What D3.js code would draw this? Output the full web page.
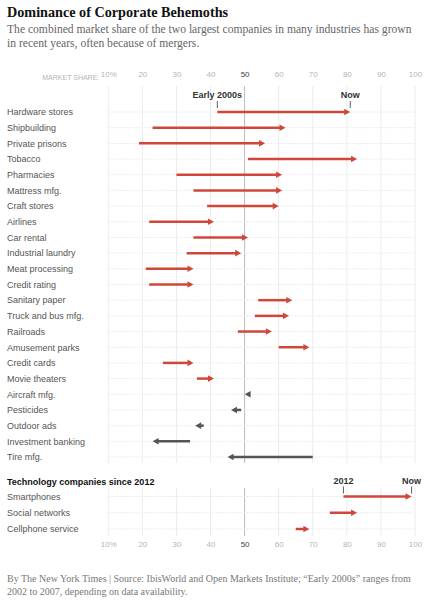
<!DOCTYPE html>
<html><head><meta charset="utf-8">
<script src="https://cdn.jsdelivr.net/npm/d3@7"></script>
<style>
body{margin:0;background:#fff;}
svg{display:block;}
</style></head>
<body>
<svg id="chart" width="432" height="600"></svg>
<script>
const industries = ["Hardware stores","Shipbuilding","Private prisons","Tobacco","Pharmacies","Mattress mfg.","Craft stores","Airlines","Car rental","Industrial laundry","Meat processing","Credit rating","Sanitary paper","Truck and bus mfg.","Railroads","Amusement parks","Credit cards","Movie theaters","Aircraft mfg.","Pesticides","Outdoor ads","Investment banking","Tire mfg."];
const early2000s = [42,23,19,51,30,35,39,22,35,33,21,22,54,53,48,60,26,36,51,49,38,34,70];
const nowShare   = [81,62,56,83,61,61,60,41,51,49,35,35,64,63,58,69,35,41,50,46,35.5,23,45];

const techIndustries = ["Smartphones","Social networks","Cellphone service"];
const tech2012 = [79,75,65];
const techNow  = [99,83,69];

const tickValues = [10,20,30,40,50,60,70,80,90,100];
const tickLabels = ["10%","20","30","40","50","60","70","80","90","100"];

const svg = d3.select("#chart");
const red = "#d0473a", gray = "#555";
const x = d3.scaleLinear().domain([10,100]).range([108.3,415]);
const y1 = d3.scalePoint().domain(industries).range([112,457]);
const y2 = d3.scalePoint().domain(techIndustries).range([496.5,529]);

const defs = svg.append("defs");
function marker(id,color){
  defs.append("marker").attr("id",id).attr("viewBox","0 0 6 7").attr("refX",6).attr("refY",3.5)
    .attr("markerWidth",6).attr("markerHeight",7).attr("orient","auto")
    .attr("markerUnits","userSpaceOnUse")
    .append("path").attr("d","M0,0L6,3.5L0,7z").attr("fill",color);
}
marker("ar",red); marker("ag",gray);

// Title
svg.append("text").attr("x",7).attr("y",17).attr("font-family","Liberation Serif, serif").attr("font-weight","bold")
  .attr("font-size",14.2).attr("fill","#111").text("Dominance of Corporate Behemoths");
const sub = svg.append("text").attr("font-family","Liberation Serif, serif").attr("font-size",11.6).attr("fill","#666");
sub.append("tspan").attr("x",7).attr("y",33).text("The combined market share of the two largest companies in many industries has grown");
sub.append("tspan").attr("x",7).attr("y",47).text("in recent years, often because of mergers.");

// grid panel 1
const g = svg.append("g");
g.selectAll("line.v1").data(tickValues).join("line")
  .attr("x1",d=>x(d)).attr("x2",d=>x(d)).attr("y1",86).attr("y2",463)
  .attr("stroke",d=>d===50?"#bbb":"#ebebeb").attr("stroke-width",1);
g.selectAll("line.h1").data(industries).join("line")
  .attr("x1",x(10)).attr("x2",x(100)).attr("y1",d=>y1(d)).attr("y2",d=>y1(d))
  .attr("stroke","#ececec").attr("stroke-dasharray","2,1");
// grid panel 2
g.selectAll("line.v2").data(tickValues).join("line")
  .attr("x1",d=>x(d)).attr("x2",d=>x(d)).attr("y1",488).attr("y2",536)
  .attr("stroke",d=>d===50?"#bbb":"#ebebeb");
g.selectAll("line.h2").data(techIndustries).join("line")
  .attr("x1",x(10)).attr("x2",x(100)).attr("y1",d=>y2(d)).attr("y2",d=>y2(d))
  .attr("stroke","#ececec").attr("stroke-dasharray","2,1");

// axes via d3
function tickAxis(yPos){
  const ax = d3.axisTop(x).tickValues(tickValues).tickSize(0).tickFormat((d,i)=>tickLabels[i]);
  const a = svg.append("g").attr("transform",`translate(0,${yPos})`).call(ax);
  a.select(".domain").remove();
  a.selectAll("text").attr("font-family","Liberation Sans, Arial, sans-serif").attr("font-size",8)
    .attr("fill",d=>d===50?"#444":"#b5b5b5").attr("dy",0);
  return a;
}
tickAxis(80);
svg.append("text").attr("x",x(10)-9).attr("y",80).attr("text-anchor","end")
  .attr("font-family","Liberation Sans, Arial, sans-serif").attr("font-size",7).attr("fill","#b5b5b5")
  .text("MARKET SHARE:");
tickAxis(550);

// row labels
const lab = "Liberation Sans, Arial, sans-serif";
svg.selectAll("text.r1").data(industries).join("text").attr("x",7).attr("y",d=>y1(d)+3.3)
  .attr("font-family",lab).attr("font-size",9).attr("fill","#555").text(d=>d);
svg.selectAll("text.r2").data(techIndustries).join("text").attr("x",7).attr("y",d=>y2(d)+3.3)
  .attr("font-family",lab).attr("font-size",9).attr("fill","#555").text(d=>d);

svg.append("text").attr("x",7).attr("y",484.5).attr("font-family",lab).attr("font-weight","bold")
  .attr("font-size",9).attr("fill","#111").text("Technology companies since 2012");

// arrows
function drawArrows(rows, yScale){
  const head = 5;
  svg.append("g").selectAll("line").data(rows).join("line")
    .attr("x1",d=>x(d.a))
    .attr("x2",d=>{const dir=d.b>d.a?1:-1; const len=Math.abs(x(d.b)-x(d.a)); return x(d.b)-dir*Math.min(head,len-0.5);})
    .attr("y1",d=>yScale(d.name)).attr("y2",d=>yScale(d.name))
    .attr("stroke",d=>d.b>d.a?red:gray).attr("stroke-width",2.5);
  svg.append("g").selectAll("path").data(rows).join("path")
    .attr("d",d=>{const dir=d.b>d.a?1:-1; const tx=x(d.b), yy=yScale(d.name);
      return `M${tx},${yy}L${tx-dir*6},${yy-3.3}L${tx-dir*6},${yy+3.3}Z`;})
    .attr("fill",d=>d.b>d.a?red:gray);
}
drawArrows(industries.map((d,i)=>({name:d,a:early2000s[i],b:nowShare[i]})), y1);
drawArrows(techIndustries.map((d,i)=>({name:d,a:tech2012[i],b:techNow[i]})), y2);

// annotations
function annot(v,yTick,label){
  svg.append("line").attr("x1",x(v)).attr("x2",x(v)).attr("y1",yTick-6).attr("y2",yTick+1)
    .attr("stroke","#333").attr("stroke-width",0.8);
  svg.append("text").attr("x",x(v)).attr("y",yTick-9).attr("text-anchor","middle")
    .attr("font-family",lab).attr("font-weight","bold").attr("font-size",9).attr("fill","#333").text(label);
}
annot(early2000s[0],y1(industries[0])-5,"Early 2000s");
annot(nowShare[0],y1(industries[0])-5,"Now");
annot(tech2012[0],y2(techIndustries[0])-4,"2012");
annot(techNow[0],y2(techIndustries[0])-4,"Now");

// footer
const ft = svg.append("text").attr("font-family","Liberation Serif, serif").attr("font-size",10).attr("fill","#777");
ft.append("tspan").attr("x",7).attr("y",582).text("By The New York Times | Source: IbisWorld and Open Markets Institute; \u201cEarly 2000s\u201d ranges from");
ft.append("tspan").attr("x",7).attr("y",595).text("2002 to 2007, depending on data availability.");
</script>
</body></html>
